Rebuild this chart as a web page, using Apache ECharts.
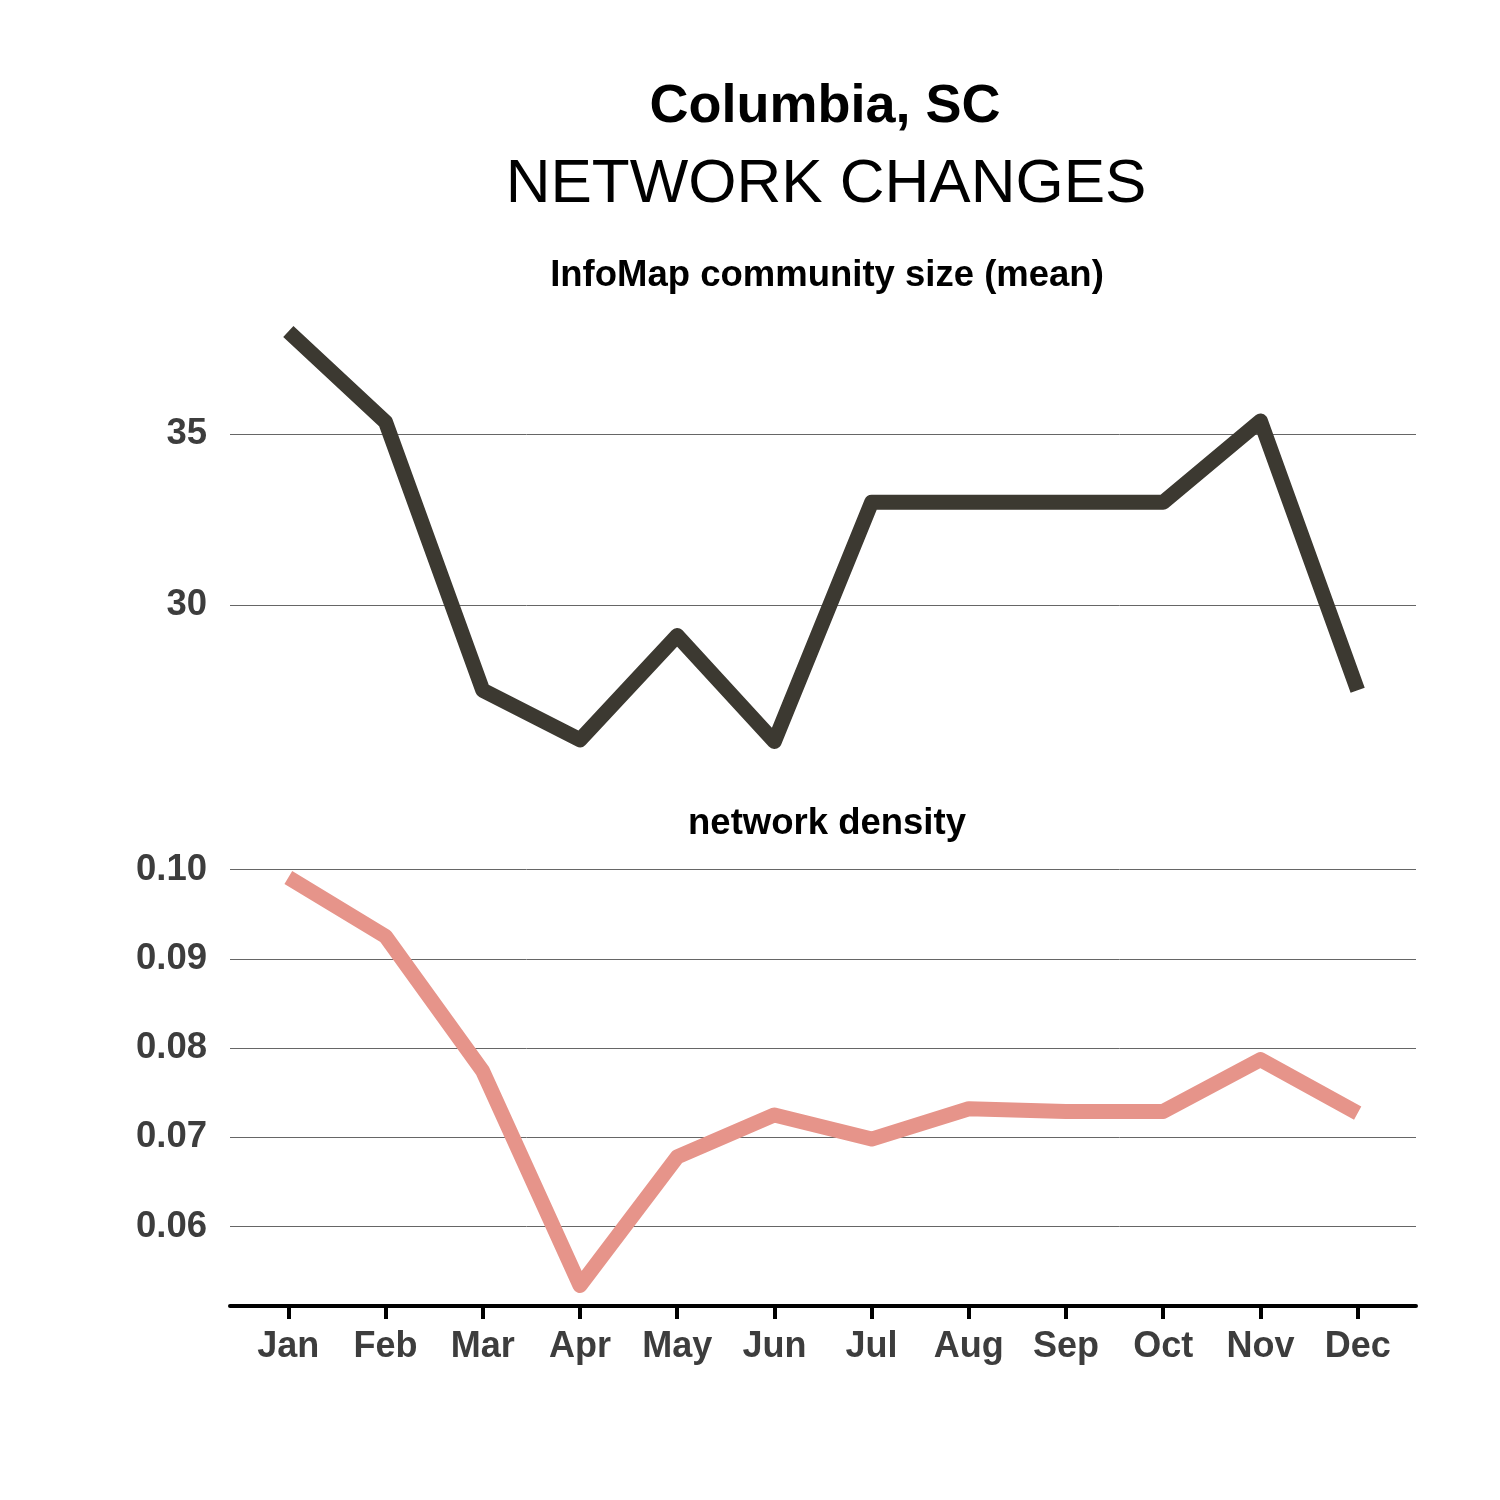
<!DOCTYPE html>
<html><head><meta charset="utf-8">
<script src="https://cdn.jsdelivr.net/npm/echarts@6/dist/echarts.min.js"></script>
<style>html,body{margin:0;padding:0;background:#fff}#c{width:1500px;height:1500px}</style>
</head><body><div id="c"></div>
<script>
var months = ['Jan','Feb','Mar','Apr','May','Jun','Jul','Aug','Sep','Oct','Nov','Dec'];
var communitySize = [38.0, 35.35, 27.5, 26.05, 29.1, 26.0, 33.0, 33.0, 33.0, 33.0, 35.38, 27.5];
var density = [0.0991, 0.0925, 0.0774, 0.0534, 0.0678, 0.0725, 0.0698, 0.0732, 0.0729, 0.0729, 0.0787, 0.0727];
var sizeTicks = [30, 35];
var densityTicks = [0.06, 0.07, 0.08, 0.09, 0.10];
var monthIdx = months.map(function(m,i){return i;});

var font = 'Liberation Sans, Arial, Helvetica, sans-serif';
var chart = echarts.init(document.getElementById('c'));
function pairs(arr){return arr.map(function(v,i){return [i,v];});}
var xBase = {type:'value', min:-0.6, max:11.6};
chart.setOption({
  animation:false,
  backgroundColor:'#fff',
  title:[
    {text:'Columbia, SC', left:820, top:75, textAlign:'center', textStyle:{fontFamily:font, fontWeight:'bold', fontSize:54, lineHeight:54, color:'#000'}},
    {text:'NETWORK CHANGES', left:821, top:149, textAlign:'center', textStyle:{fontFamily:font, fontWeight:'normal', fontSize:62, lineHeight:62, color:'#000'}},
    {text:'InfoMap community size (mean)', left:822, top:253, textAlign:'center', textStyle:{fontFamily:font, fontWeight:'bold', fontSize:36.5, lineHeight:36, color:'#000'}},
    {text:'network density', left:822, top:801, textAlign:'center', textStyle:{fontFamily:font, fontWeight:'bold', fontSize:36.5, lineHeight:36, color:'#000'}}
  ],
  grid:[
    {left:230, right:84, top:311, bottom:738},
    {left:230, right:84, top:857, bottom:194}
  ],
  xAxis:[
    Object.assign({gridIndex:0, show:false, splitLine:{show:false}}, xBase),
    Object.assign({gridIndex:1,
      axisLine:{show:true, lineStyle:{color:'#000', width:4}},
      axisTick:{show:true, length:13, lineStyle:{color:'#000', width:4}, customValues:monthIdx},
      axisLabel:{customValues:monthIdx, margin:23, fontFamily:font, fontWeight:'bold', fontSize:36, color:'#3d3d3d',
        formatter:function(v){return months[Math.round(v)];}},
      splitLine:{show:false}}, xBase)
  ],
  yAxis:[
    {type:'value', gridIndex:0, min:25.4, max:38.6,
      axisLine:{show:false}, axisTick:{show:false, customValues:sizeTicks},
      axisLabel:{customValues:sizeTicks, margin:23, padding:[7,0,0,0], fontFamily:font, fontWeight:'bold', fontSize:36.5, color:'#3d3d3d'},
      splitLine:{show:true, lineStyle:{color:'#666', width:1}}},
    {type:'value', gridIndex:1, min:0.0511, max:0.1014,
      axisLine:{show:false}, axisTick:{show:false, customValues:densityTicks},
      axisLabel:{customValues:densityTicks, margin:23, padding:[7,0,0,0], fontFamily:font, fontWeight:'bold', fontSize:36.5, color:'#3d3d3d',
        formatter:function(v){return v.toFixed(2);}},
      splitLine:{show:true, lineStyle:{color:'#666', width:1}}}
  ],
  series:[
    {type:'line', xAxisIndex:0, yAxisIndex:0, data:pairs(communitySize), symbol:'none',
      lineStyle:{color:'#3c3931', width:15, cap:'butt', join:'round'}},
    {type:'line', xAxisIndex:1, yAxisIndex:1, data:pairs(density), symbol:'none',
      lineStyle:{color:'#e6948a', width:15, cap:'butt', join:'round'}}
  ]
});
</script></body></html>
